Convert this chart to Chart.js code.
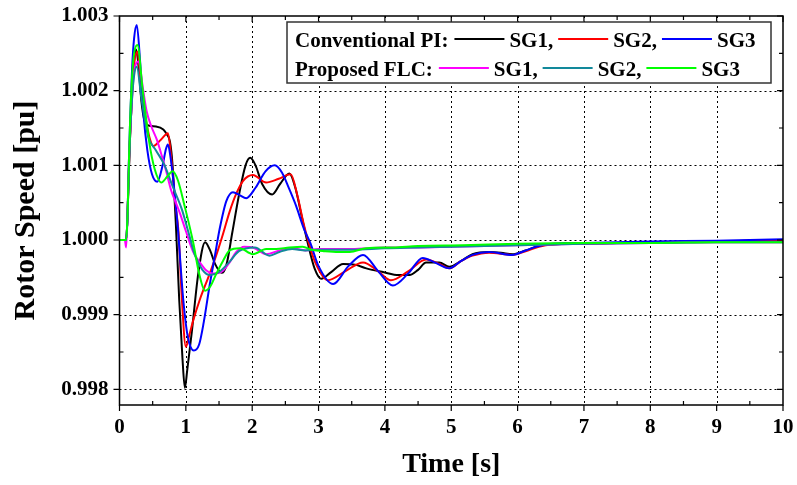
<!DOCTYPE html>
<html>
<head>
<meta charset="utf-8">
<title>Rotor Speed</title>
<script src="https://cdn.jsdelivr.net/npm/chart.js@4.4.1/dist/chart.umd.min.js"></script>
<style>
  html, body { margin: 0; padding: 0; background: #fff; }
  #wrap { width: 797px; height: 485px; }
</style>
</head>
<body>
<div id="wrap"><canvas id="speedChart"></canvas></div>
<script>
'use strict';

// time axis [s] and rotor speed [pu] for each generator
let piSG1Time = [0, 0.10, 0.12, 0.14, 0.16, 0.19, 0.22, 0.25, 0.29, 0.33, 0.38, 0.45, 0.55, 0.66, 0.71, 0.76, 0.80, 0.85, 0.90, 0.95,
    0.985, 1.02, 1.09, 1.19, 1.29, 1.37, 1.44, 1.54, 1.61, 1.70, 1.80, 1.90, 1.97, 2.05, 2.15, 2.30, 2.42, 2.56, 2.65, 2.75,
    2.84, 2.94, 3.04, 3.19, 3.37, 3.55, 3.72, 3.97, 4.21, 4.37, 4.50, 4.62, 4.82, 4.97, 5.15, 5.32, 5.57, 5.75, 5.92, 6.12,
    6.32, 6.52, 7.0, 8.0, 9.0, 10.0];
let piSG1Speed = [1.00000, 1.00000, 1.00030, 1.00090, 1.00140, 1.00200, 1.00240, 1.00255, 1.00230, 1.00186,
    1.00159, 1.00153, 1.00152, 1.00148, 1.00142, 1.00132, 1.00100, 1.00020, 0.99920, 0.99840,
    0.99802, 0.99825, 0.99877, 0.99957, 0.99997, 0.99985, 0.99968, 0.99956, 0.99966, 1.00010,
    1.00060, 1.00100, 1.00110, 1.00100, 1.00075, 1.00061, 1.00075, 1.00089, 1.00070, 1.00030,
    0.99995, 0.99962, 0.99948, 0.99957, 0.99968, 0.99967, 0.99962, 0.99957, 0.99953, 0.99953,
    0.99960, 0.99970, 0.99970, 0.99964, 0.99972, 0.99981, 0.99984, 0.99983, 0.99981, 0.99986,
    0.99992, 0.99994, 0.99995, 0.99997, 0.99998, 1.00000];

let piSG2Time = [0, 0.10, 0.12, 0.14, 0.16, 0.19, 0.22, 0.27, 0.33, 0.40, 0.45, 0.51, 0.62, 0.73, 0.78, 0.84, 0.89, 0.94, 1.00, 1.05,
    1.11, 1.21, 1.36, 1.46, 1.56, 1.66, 1.76, 1.86, 2.01, 2.21, 2.40, 2.58, 2.68, 2.78, 2.84, 2.95, 3.14, 3.40, 3.67, 3.90,
    4.09, 4.35, 4.62, 4.82, 4.97, 5.15, 5.32, 5.57, 5.92, 6.12, 6.32, 6.52, 7.0, 8.0, 9.0, 10.0];
let piSG2Speed = [1.00000, 1.00000, 1.00030, 1.00090, 1.00140, 1.00195, 1.00235, 1.00252, 1.00200, 1.00160,
    1.00138, 1.00126, 1.00134, 1.00143, 1.00110, 1.00050, 1.00010, 0.99921, 0.99857, 0.99872,
    0.99892, 0.99920, 0.99955, 0.99980, 1.00008, 1.00038, 1.00062, 1.00079, 1.00087, 1.00077,
    1.00082, 1.00088, 1.00060, 1.00020, 1.00000, 0.99970, 0.99946, 0.99958, 0.99970, 0.99958,
    0.99946, 0.99958, 0.99974, 0.99968, 0.99962, 0.99972, 0.99979, 0.99983, 0.99980, 0.99985,
    0.99991, 0.99994, 0.99995, 0.99997, 0.99998, 1.00000];

let piSG3Time = [0, 0.10, 0.12, 0.14, 0.16, 0.19, 0.22, 0.26, 0.31, 0.36, 0.42, 0.49, 0.57, 0.65, 0.70, 0.73, 0.77, 0.81, 0.88, 0.96,
    1.03, 1.12, 1.20, 1.27, 1.36, 1.44, 1.51, 1.61, 1.71, 1.81, 1.91, 2.05, 2.20, 2.34, 2.45, 2.55, 2.66, 2.78, 2.88, 3.00,
    3.22, 3.45, 3.67, 3.90, 4.12, 4.35, 4.57, 4.75, 4.97, 5.15, 5.32, 5.57, 5.92, 6.12, 6.32, 6.52, 7.0, 8.0, 9.0, 10.0];
let piSG3Speed = [1.00000, 1.00000, 1.00030, 1.00100, 1.00160, 1.00230, 1.00270, 1.00288, 1.00240, 1.00170,
    1.00120, 1.00088, 1.00078, 1.00100, 1.00122, 1.00128, 1.00110, 1.00081, 1.00015, 0.99921,
    0.99870, 0.99852, 0.99860, 0.99890, 0.99940, 0.99980, 1.00015, 1.00052, 1.00064, 1.00060,
    1.00056, 1.00070, 1.00092, 1.00100, 1.00090, 1.00070, 1.00046, 1.00015, 0.99995, 0.99965,
    0.99941, 0.99965, 0.99980, 0.99958, 0.99939, 0.99955, 0.99976, 0.99970, 0.99962, 0.99972,
    0.99980, 0.99984, 0.99980, 0.99986, 0.99992, 0.99995, 0.99996, 0.99998, 0.99999, 1.00001];

let flcSG1Time = [0, 0.08, 0.10, 0.12, 0.14, 0.17, 0.22, 0.29, 0.35, 0.41, 0.48, 0.56, 0.64, 0.71, 0.78, 0.85, 0.91, 1.00, 1.11, 1.21,
    1.31, 1.41, 1.56, 1.66, 1.76, 1.88, 2.01, 2.21, 2.41, 2.60, 2.80, 3.00, 3.50, 4.00, 4.50, 5.00, 6.00, 7.00, 8.00, 9.00, 10.0];
let flcSG1Speed = [1.00000, 1.00000, 0.99990, 1.00030, 1.00100, 1.00160, 1.00225, 1.00239, 1.00205, 1.00172,
    1.00152, 1.00135, 1.00112, 1.00090, 1.00066, 1.00050, 1.00036, 1.00012, 0.99984, 0.99970,
    0.99959, 0.99955, 0.99959, 0.99970, 0.99984, 0.99991, 0.99990, 0.99981, 0.99986, 0.99989,
    0.99986, 0.99988, 0.99988, 0.99990, 0.99990, 0.99991, 0.99993, 0.99995, 0.99996, 0.99997, 0.99997];

let flcSG2Time = [0, 0.10, 0.12, 0.14, 0.16, 0.19, 0.22, 0.26, 0.33, 0.43, 0.55, 0.68, 0.80, 0.94, 1.04, 1.14, 1.25, 1.36, 1.50, 1.65,
    1.80, 2.04, 2.26, 2.41, 2.60, 2.80, 3.00, 3.50, 4.00, 4.50, 5.00, 6.00, 7.00, 8.00, 9.00, 10.0];
let flcSG2Speed = [1.00000, 1.00000, 1.00030, 1.00090, 1.00140, 1.00190, 1.00220, 1.00232, 1.00190, 1.00139,
    1.00120, 1.00100, 1.00072, 1.00041, 1.00010, 0.99979, 0.99960, 0.99953, 0.99957, 0.99970,
    0.99985, 0.99990, 0.99979, 0.99984, 0.99988, 0.99986, 0.99987, 0.99987, 0.99989, 0.99990,
    0.99991, 0.99993, 0.99995, 0.99996, 0.99997, 0.99997];

let flcSG3Time = [0, 0.10, 0.12, 0.14, 0.16, 0.19, 0.22, 0.27, 0.35, 0.45, 0.53, 0.63, 0.72, 0.80, 0.88, 0.98, 1.11, 1.20, 1.29, 1.37,
    1.46, 1.56, 1.66, 1.81, 2.01, 2.21, 2.36, 2.56, 2.76, 2.90, 3.10, 3.30, 3.47, 3.72, 4.12, 4.50, 5.17, 6.00, 7.00, 8.00, 9.00, 10.0];
let flcSG3Speed = [1.00000, 1.00000, 1.00030, 1.00100, 1.00160, 1.00220, 1.00250, 1.00261, 1.00200, 1.00130,
    1.00095, 1.00077, 1.00085, 1.00092, 1.00080, 1.00046, 0.99997, 0.99955, 0.99932, 0.99938,
    0.99955, 0.99972, 0.99986, 0.99989, 0.99981, 0.99988, 0.99988, 0.99990, 0.99991, 0.99987,
    0.99985, 0.99984, 0.99984, 0.99989, 0.99990, 0.99992, 0.99993, 0.99995, 0.99996, 0.99996, 0.99997, 0.99997];

let xTicks = [0, 1, 2, 3, 4, 5, 6, 7, 8, 9, 10];
let xTickLabels = ['0', '1', '2', '3', '4', '5', '6', '7', '8', '9', '10'];
let yTicks = [0.998, 0.999, 1.000, 1.001, 1.002, 1.003];
let yTickLabels = ['0.998', '0.999', '1.000', '1.001', '1.002', '1.003'];

let seriesNames = ['SG1', 'SG2', 'SG3', 'SG1', 'SG2', 'SG3'];
let seriesColors = ['#000000', '#ff0000', '#0000ff', '#ff00ff', '#12899b', '#00ff00'];

let serif = "'Liberation Serif', 'Times New Roman', serif";

function toPoints(time, speed) {
    let pts = [];
    for (let i = 0; i < time.length; i++) {
        pts.push({ x: time[i], y: speed[i] });
    }
    return pts;
}

let allSeries = [
    toPoints(piSG1Time, piSG1Speed),
    toPoints(piSG2Time, piSG2Speed),
    toPoints(piSG3Time, piSG3Speed),
    toPoints(flcSG1Time, flcSG1Speed),
    toPoints(flcSG2Time, flcSG2Speed),
    toPoints(flcSG3Time, flcSG3Speed)
];
// draw order: PI black at the bottom, FLC green on top
let drawOrder = [6, 5, 4, 3, 2, 1];

let datasets = [];
for (let i = 0; i < allSeries.length; i++) {
    datasets.push({
        label: seriesNames[i],
        data: allSeries[i],
        borderColor: seriesColors[i],
        backgroundColor: seriesColors[i],
        borderWidth: 2,
        pointRadius: 0,
        fill: false,
        cubicInterpolationMode: 'monotone',
        order: drawOrder[i]
    });
}

// frame, dotted grid, inner/outer ticks and the two-row legend
const axisFrame = {
    id: 'axisFrame',
    beforeDatasetsDraw(chart) {
        let { ctx, chartArea: a, scales: { x, y } } = chart;
        ctx.save();
        ctx.strokeStyle = '#000';
        ctx.lineWidth = 1;
        ctx.setLineDash([2, 3]);
        ctx.beginPath();
        xTicks.forEach(v => {
            let px = Math.round(x.getPixelForValue(v)) + 0.5;
            if (px <= a.left + 1 || px >= a.right - 1) return;
            ctx.moveTo(px, a.top);
            ctx.lineTo(px, a.bottom);
        });
        yTicks.forEach(v => {
            let py = Math.round(y.getPixelForValue(v)) + 0.5;
            if (py <= a.top + 1 || py >= a.bottom - 1) return;
            ctx.moveTo(a.left, py);
            ctx.lineTo(a.right, py);
        });
        ctx.stroke();
        ctx.restore();
    },
    afterDatasetsDraw(chart) {
        let { ctx, chartArea: a, scales: { x, y } } = chart;
        ctx.save();
        ctx.strokeStyle = '#000';
        ctx.lineWidth = 1.5;
        ctx.strokeRect(a.left, a.top, a.right - a.left, a.bottom - a.top);

        ctx.lineWidth = 1.2;
        ctx.beginPath();
        for (let i = 0; i < xTicks.length; i++) {
            let px = x.getPixelForValue(xTicks[i]);
            ctx.moveTo(px, a.bottom);
            ctx.lineTo(px, a.bottom + 6);
            ctx.moveTo(px, a.top);
            ctx.lineTo(px, a.top + 6);
            if (i < xTicks.length - 1) {
                let mx = x.getPixelForValue((xTicks[i] + xTicks[i + 1]) / 2);
                ctx.moveTo(mx, a.bottom);
                ctx.lineTo(mx, a.bottom - 4);
                ctx.moveTo(mx, a.top);
                ctx.lineTo(mx, a.top + 4);
            }
        }
        for (let i = 0; i < yTicks.length; i++) {
            let py = y.getPixelForValue(yTicks[i]);
            ctx.moveTo(a.left - 6, py);
            ctx.lineTo(a.left, py);
            ctx.moveTo(a.right, py);
            ctx.lineTo(a.right - 6, py);
            if (i < yTicks.length - 1) {
                let my = y.getPixelForValue((yTicks[i] + yTicks[i + 1]) / 2);
                ctx.moveTo(a.left, my);
                ctx.lineTo(a.left + 4, my);
                ctx.moveTo(a.right, my);
                ctx.lineTo(a.right - 4, my);
            }
        }
        ctx.stroke();

        // legend box
        let boxL = 287, boxT = 22, boxR = 771, boxB = 83;
        ctx.fillStyle = '#fff';
        ctx.fillRect(boxL, boxT, boxR - boxL, boxB - boxT);
        ctx.strokeStyle = '#333';
        ctx.lineWidth = 1.5;
        ctx.strokeRect(boxL, boxT, boxR - boxL, boxB - boxT);

        ctx.font = 'bold 21px ' + serif;
        ctx.fillStyle = '#000';
        ctx.textBaseline = 'alphabetic';
        let rows = [
            { head: 'Conventional PI:', first: 0, base: 47 },
            { head: 'Proposed FLC:', first: 3, base: 76 }
        ];
        rows.forEach(row => {
            let cx = 295;
            ctx.fillText(row.head, cx, row.base);
            cx += ctx.measureText(row.head).width + 6;
            for (let k = 0; k < 3; k++) {
                let ds = chart.data.datasets[row.first + k];
                ctx.strokeStyle = ds.borderColor;
                ctx.lineWidth = 2;
                ctx.beginPath();
                ctx.moveTo(cx, row.base - 8);
                ctx.lineTo(cx + 50, row.base - 8);
                ctx.stroke();
                cx += 55;
                let txt = ds.label + (k < 2 ? ',' : '');
                ctx.fillText(txt, cx, row.base);
                cx += ctx.measureText(txt).width + 5;
            }
        });
        ctx.restore();
    }
};

let ctx = document.getElementById('speedChart').getContext('2d');
let speedChart = new Chart(ctx, {
    type: 'line',
    data: { datasets: datasets },
    plugins: [axisFrame],
    options: {
        responsive: true,
        maintainAspectRatio: false,
        animation: false,
        layout: { padding: { left: 0, right: 14, top: 16, bottom: 0 } },
        plugins: {
            legend: { display: false },
            tooltip: { enabled: false }
        },
        scales: {
            x: {
                type: 'linear',
                min: 0,
                max: 10,
                grid: { display: false, drawTicks: false },
                border: { display: false },
                afterBuildTicks: scale => { scale.ticks = xTicks.map(v => ({ value: v })); },
                afterFit: scale => {
                    scale.height = 80;
                    scale.paddingLeft = 0;
                    scale.paddingRight = 0;
                },
                ticks: {
                    color: '#000',
                    font: { family: serif, size: 21, weight: 'bold' },
                    padding: 10,
                    maxRotation: 0,
                    autoSkip: false,
                    callback: (value, index) => xTickLabels[index]
                },
                title: {
                    display: true,
                    text: 'Time [s]',
                    color: '#000',
                    font: { family: serif, size: 28, weight: 'bold' },
                    padding: { top: 0, bottom: 3 }
                }
            },
            y: {
                type: 'linear',
                min: 0.99779,
                max: 1.003,
                grid: { display: false, drawTicks: false },
                border: { display: false },
                afterBuildTicks: scale => { scale.ticks = yTicks.map(v => ({ value: v })); },
                afterFit: scale => {
                    scale.width = 119.5;
                    scale.paddingTop = 0;
                    scale.paddingBottom = 0;
                },
                ticks: {
                    color: '#000',
                    font: { family: serif, size: 21, weight: 'bold' },
                    padding: 11,
                    autoSkip: false,
                    callback: (value, index) => yTickLabels[index]
                },
                title: {
                    display: true,
                    text: 'Rotor Speed [pu]',
                    color: '#000',
                    font: { family: serif, size: 30, weight: 'bold' },
                    padding: { top: 8, bottom: 0 }
                }
            }
        }
    }
});
</script>
</body>
</html>
